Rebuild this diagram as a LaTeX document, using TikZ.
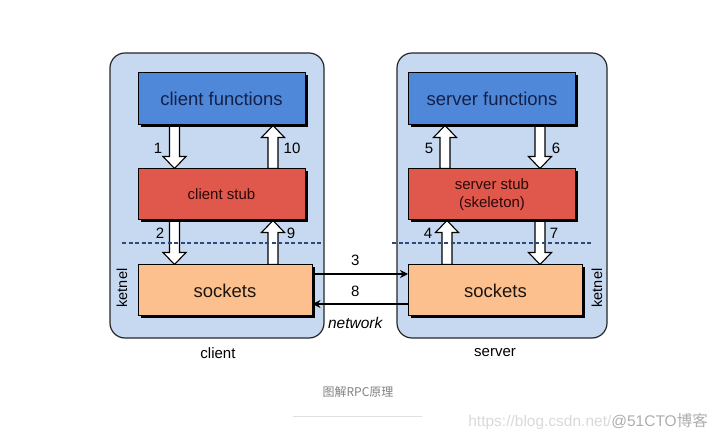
\documentclass[tikz,border=0pt]{standalone}
\usepackage{fontspec}
\setmainfont{Liberation Sans}
\newfontfamily\cjkfont{Noto Sans CJK SC}
\usepackage{tikz}
\usetikzlibrary{arrows.meta,positioning,calc,shadows}
\definecolor{hostbg}{HTML}{C6D9F1}
\definecolor{funcblue}{HTML}{4F88D8}
\definecolor{stubred}{HTML}{E0584C}
\definecolor{sockpeach}{HTML}{FBC08E}
\definecolor{sepnavy}{HTML}{2C4A7A}
\definecolor{functext}{HTML}{14204A}
\definecolor{stubtext}{HTML}{2B0808}
\definecolor{socktext}{HTML}{1E140C}
\pgfdeclarelayer{background}
\pgfdeclarelayer{arrows}
\pgfsetlayers{background,arrows,main}
\tikzset{
  >=Stealth,
  every picture/.append style={line width=0.6pt},
}
\tikzset{
  host/.style={draw=black!85, line width=1.2pt, fill=hostbg, rounded corners=15pt, inner sep=0pt},
  layer/.style={draw=black, line width=1pt, inner sep=0pt, align=center,
    drop shadow={shadow xshift=2.5pt, shadow yshift=-2.5pt, fill=black, opacity=1}},
  barrow/.style={draw=black, fill=white, line width=1.1pt,
    to path={let \p1=(\tikztostart), \p2=(\tikztotarget), \n1={\y2-sign(\y2-\y1)*12pt} in
      (\x1-5pt,\y1) -- (\x1-5pt,\n1) -- (\x1-11.5pt,\n1) -- (\x1,\y2)
      -- (\x1+11.5pt,\n1) -- (\x1+5pt,\n1) -- (\x1+5pt,\y1) -- cycle}}
}

\begin{document}
\begin{tikzpicture}[
  x=1pt, y=1pt,
  node distance=43pt,
  every node/.style={font=\fontsize{15}{18}\selectfont},
  func/.style={layer, fill=funcblue, minimum width=167pt, minimum height=52pt, text=functext, font=\fontsize{18.5}{22}\selectfont},
  stub/.style={layer, fill=stubred, minimum width=167pt, minimum height=51pt, text=stubtext, font=\fontsize{15}{18}\selectfont},
  sock/.style={layer, fill=sockpeach, minimum width=174pt, minimum height=51pt, text=socktext, font=\fontsize{18.5}{22}\selectfont},
  num/.style={inner sep=0pt, font=\fontsize{15}{18}\selectfont},
  sep/.style={draw=sepnavy, line width=1.2pt, dash pattern=on 4pt off 2.5pt},
  net/.style={-{Stealth[length=8pt,width=8pt]}, line width=1.8pt, draw=black}
]
\useasboundingbox (0,0) rectangle (715,439);

% hosts
\begin{pgfonlayer}{background}
\node[host, minimum width=214pt, minimum height=285pt] (clienthost) at (217,243.5) {};
\node[host, minimum width=210pt, minimum height=285pt] (serverhost) at (502,243.5) {};
\end{pgfonlayer}

% client side
\node[func] (cf) at (221.5,340) {client functions};
\node[stub, below=of cf] (cs) {client stub};
\node[sock, below=44pt of cs.south west, anchor=north west] (csock) {sockets};

% server side
\node[func] (sf) at (492,340) {server functions};
\node[stub, below=of sf, align=center] (ss) {server stub\\(skeleton)};
\node[sock, below=44pt of ss.south west, anchor=north west] (ssock) {sockets};

% kernel boundary
\coordinate (cdl) at (122,196);
\coordinate (cdr) at (323,196);
\coordinate (sdl) at (392,196);
\coordinate (sdr) at (592,196);
\draw[sep] (cdl) -- (cdr);
\draw[sep] (sdl) -- (sdr);

% call steps
\begin{pgfonlayer}{arrows}
\draw[barrow] ([xshift=-47pt]cf.south) to (cs.north);
\draw[barrow] ([xshift=51.5pt]cs.north) to (cf.south);
\draw[barrow] ([xshift=-47pt]cs.south) to (csock.north);
\draw[barrow] ([xshift=48pt]csock.north) to (cs.south);
\draw[barrow] ([xshift=-47pt]ss.north) to (sf.south);
\draw[barrow] ([xshift=48pt]sf.south) to (ss.north);
\draw[barrow] ([xshift=-48.5pt]ssock.north) to (ss.south);
\draw[barrow] ([xshift=48pt]ss.south) to (ssock.north);
\end{pgfonlayer}

\node[num] (n1) at ([xshift=-63.5pt,yshift=-23pt]cf.south) {1};
\node[num] (n10) at ([xshift=70.5pt,yshift=-23pt]cf.south) {10};
\node[num] (n2) at ([xshift=-61.5pt,yshift=-13pt]cs.south) {2};
\node[num] (n9) at ([xshift=69.5pt,yshift=-13pt]cs.south) {9};
\node[num] (n5) at ([xshift=-63pt,yshift=-23pt]sf.south) {5};
\node[num] (n6) at ([xshift=64pt,yshift=-23pt]sf.south) {6};
\node[num] (n4) at ([xshift=-64pt,yshift=-13pt]ss.south) {4};
\node[num] (n7) at ([xshift=62pt,yshift=-13pt]ss.south) {7};

% network
\draw[net] ([yshift=16.5pt]csock.east) -- node[num, midway, above=7pt, xshift=-5pt] (n3) {3} ([yshift=16.5pt]ssock.west);
\draw[net] ([yshift=-13.5pt]ssock.west) -- node[num, midway, above=6.5pt, xshift=-5pt] (n8) {8}
  node[num, midway, below=12pt, xshift=-5pt, font=\fontsize{15.5}{18}\selectfont\itshape] (nettxt) {network} ([yshift=-13.5pt]csock.east);

% kernel labels
\node[num, rotate=90, font=\fontsize{14.5}{17}\selectfont] (ckern) at (122,151) {ketnel};
\node[num, rotate=90, font=\fontsize{14.5}{17}\selectfont] (skern) at (597,151) {ketnel};

% host labels
\node[num] (clbl) at (218,86) {client};
\node[num] (slbl) at (495,86) {server};

% caption
\node[num, text=black!50, font=\fontsize{12}{14}\selectfont\cjkfont] (cap) at (358,47) {图解RPC原理};
\coordinate (capl) at (293,23);
\coordinate (capr) at (422,23);
\draw[black!12, line width=0.8pt] (capl) -- (capr);
\node[num, anchor=east, font=\fontsize{15.5}{18}\selectfont] (wmark) at (708,17)
  {\textcolor{black!15}{https://blog.csdn.net/}\textcolor{black!32}{@51CTO\cjkfont 博客}};

\end{tikzpicture}
\end{document}
